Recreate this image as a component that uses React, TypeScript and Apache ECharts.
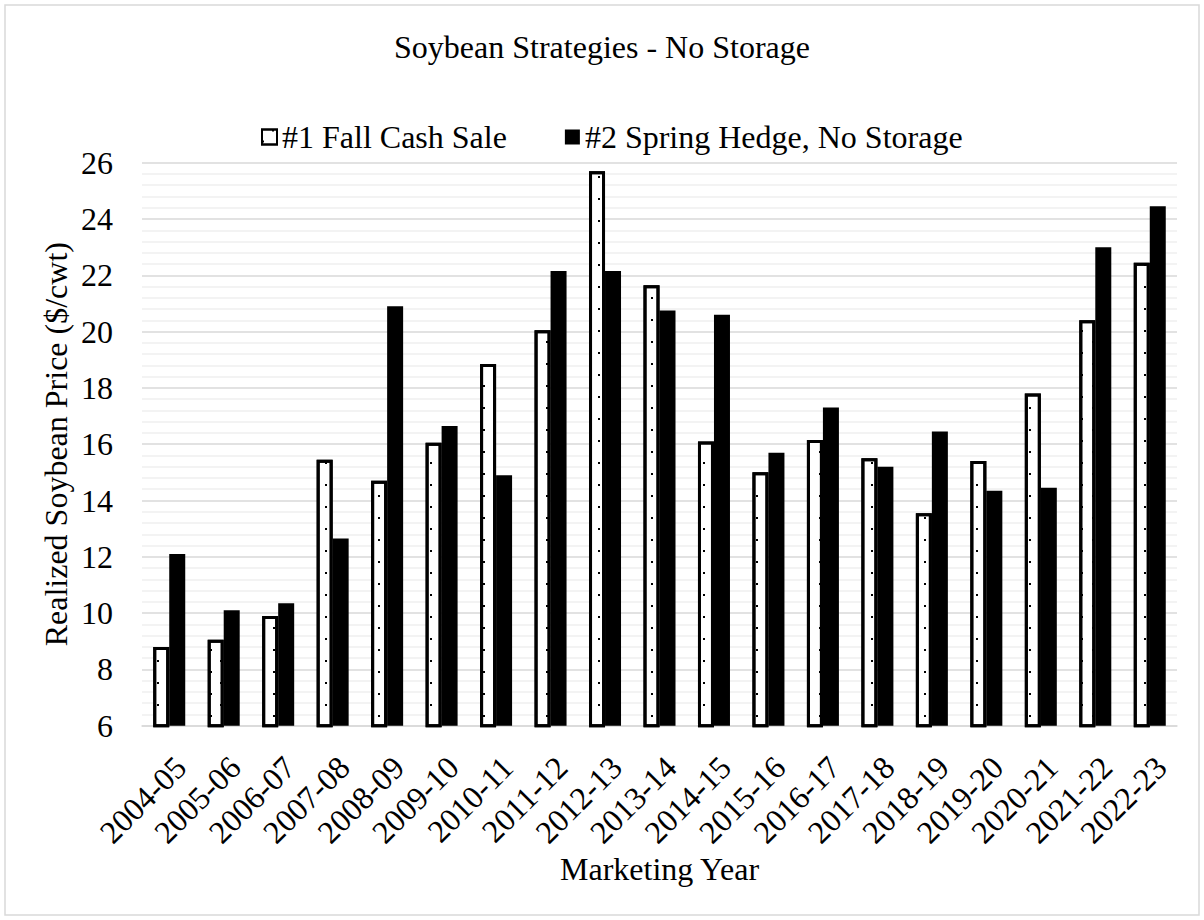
import React, { useEffect, useRef } from "react";
import * as echarts from "echarts";

// Marketing years on the category axis
const marketingYears = [
  "2004-05", "2005-06", "2006-07", "2007-08", "2008-09", "2009-10", "2010-11",
  "2011-12", "2012-13", "2013-14", "2014-15", "2015-16", "2016-17", "2017-18",
  "2018-19", "2019-20", "2020-21", "2021-22", "2022-23",
];

// Realized soybean price ($/cwt), strategy #1: fall cash sale
const fallCashSale = [
  8.8, 9.05, 9.9, 15.45, 14.7, 16.05, 18.85, 20.05, 25.7, 21.65,
  16.1, 15.0, 16.15, 15.5, 13.55, 15.4, 17.8, 20.4, 22.45,
];

// Realized soybean price ($/cwt), strategy #2: spring hedge, no storage
const springHedge = [
  12.1, 10.1, 10.35, 12.65, 20.9, 16.65, 14.9, 22.15, 22.15, 20.75,
  20.6, 15.7, 17.3, 15.2, 16.45, 14.35, 14.45, 23.0, 24.45,
];

// Value axis ticks
const yMin = 6;
const yMax = 26;
const yStep = 2;

const FONT = "Liberation Serif";
const FS = 32;

const txt = { fontFamily: FONT, fontSize: FS, color: "#000" };

export default function App() {
  const ref = useRef<HTMLDivElement>(null);

  useEffect(() => {
    document.body.style.margin = "0";
    const chart = echarts.init(ref.current!, null, { renderer: "svg" });
    chart.setOption({
      animation: false,
      backgroundColor: "#fff",
      title: {
        text: "Soybean Strategies - No Storage",
        left: "center",
        top: 26,
        textStyle: { ...txt, fontWeight: "normal" },
      },
      legend: {
        left: 256,
        top: 116,
        icon: "rect",
        itemWidth: 15,
        itemHeight: 15,
        itemGap: 58,
        textStyle: { ...txt },
      },
      graphic: [
        {
          type: "rect",
          shape: { x: 5, y: 5, width: 1194, height: 910 },
          style: { fill: "none", stroke: "#d9d9d9", lineWidth: 1.5 },
          silent: true,
        },
      ],
      grid: { left: 142, right: 27, top: 162.7, bottom: 194.3 },
      xAxis: {
        type: "category",
        data: marketingYears,
        axisLine: { lineStyle: { color: "#d9d9d9", width: 1.5 } },
        axisTick: { show: false },
        axisLabel: {
          ...txt,
          interval: 0,
          rotate: 45,
          margin: 25,
          align: "right",
          verticalAlign: "top",
        },
        name: "Marketing Year",
        nameLocation: "middle",
        nameGap: 127,
        nameMoveOverlap: false,
        nameTextStyle: { ...txt },
      },
      yAxis: {
        type: "value",
        min: yMin,
        max: yMax,
        interval: yStep,
        axisLine: { show: false },
        axisTick: { show: false },
        axisLabel: { ...txt, margin: 29 },
        splitLine: { lineStyle: { color: "#d9d9d9", width: 1.5 } },
        minorTick: { show: false, splitNumber: 5 },
        minorSplitLine: { show: true, lineStyle: { color: "#efefef", width: 1.5 } },
        name: "Realized Soybean Price ($/cwt)",
        nameLocation: "middle",
        nameGap: 70,
        nameMoveOverlap: false,
        nameTextStyle: { ...txt },
      },
      series: [
        {
          name: "#1 Fall Cash Sale",
          type: "bar",
          data: fallCashSale,
          barWidth: 16,
          barGap: "0%",
          itemStyle: {
            color: "#fff",
            borderColor: "#000",
            borderWidth: 3,
            decal: {
              symbol: "rect",
              symbolSize: 1,
              color: "#000",
              backgroundColor: "rgba(0,0,0,0)",
              dashArrayX: [[2, 19], [0, 10, 2, 9]],
              dashArrayY: [2, 9],
            },
          },
        },
        {
          name: "#2 Spring Hedge, No Storage",
          type: "bar",
          data: springHedge,
          barWidth: 16,
          itemStyle: { color: "#000" },
        },
      ],
    });
    return () => chart.dispose();
  }, []);

  return <div ref={ref} style={{ width: 1204, height: 920 }} />;
}
